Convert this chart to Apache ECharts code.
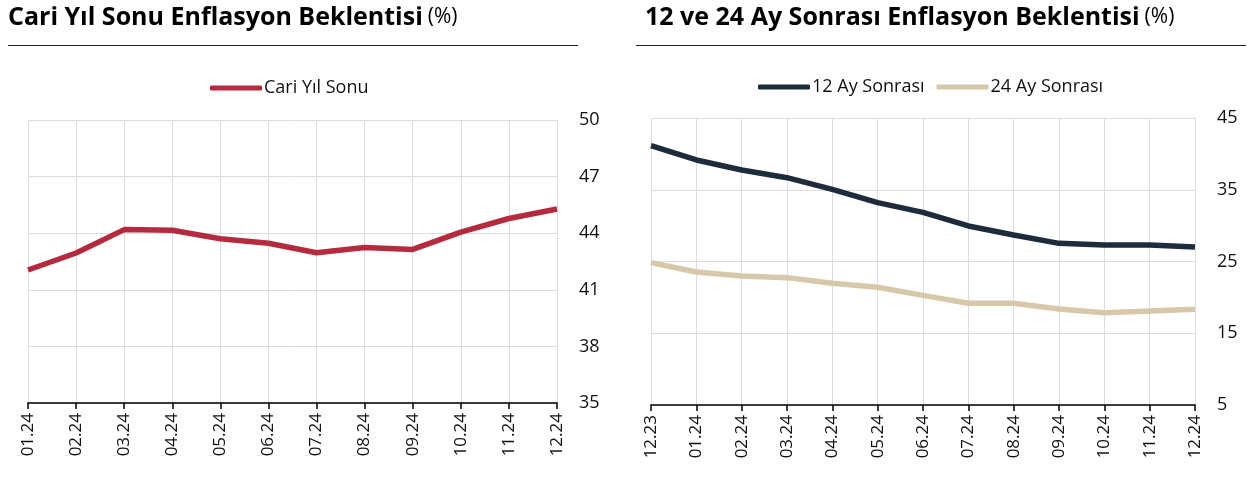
<!DOCTYPE html>
<html>
<head>
<meta charset="utf-8">
<script src="https://cdn.jsdelivr.net/npm/echarts@6/dist/echarts.min.js"></script>
<style>
html,body{margin:0;padding:0;background:#fff;}
#c{width:1252px;height:483px;}
</style>
</head>
<body>
<div id="c"></div>
<script>
// ---- data ----
const leftCategories = ['01.24','02.24','03.24','04.24','05.24','06.24','07.24','08.24','09.24','10.24','11.24','12.24'];
const cariYilSonu = [42.05, 42.95, 44.19, 44.16, 43.71, 43.47, 42.96, 43.24, 43.14, 44.06, 44.78, 45.28];

const rightCategories = ['12.23','01.24','02.24','03.24','04.24','05.24','06.24','07.24','08.24','09.24','10.24','11.24','12.24'];
const ay12Sonrasi = [41.14, 39.15, 37.75, 36.68, 35.06, 33.2, 31.85, 29.95, 28.7, 27.53, 27.3, 27.3, 27.02];
const ay24Sonrasi = [24.84, 23.54, 22.98, 22.75, 21.96, 21.4, 20.28, 19.17, 19.17, 18.38, 17.87, 18.1, 18.33];

const leftTitle = 'Cari Yıl Sonu Enflasyon Beklentisi';
const rightTitle = '12 ve 24 Ay Sonrası Enflasyon Beklentisi';

const FONT = '"Open Sans", "Noto Sans", sans-serif';
const RED = '#b42b3f', NAVY = '#1e2b3d', BEIGE = '#d7c8aa';
const GRID_C = '#dcdcdc';

function xAxisCfg(idx, cats){
  return {
    type:'category', gridIndex: idx, data: cats, boundaryGap:false,
    axisLine:{show:true, lineStyle:{color:'#000', width:1.5}},
    axisTick:{show:true, length:6, lineStyle:{color:'#000', width:1.5}},
    axisLabel:{rotate:90, margin:10, color:'#111', fontFamily:FONT, fontSize:17},
    splitLine:{show:true, lineStyle:{color:GRID_C, width:1}}
  };
}
function yAxisCfg(idx, min, max, interval){
  return {
    type:'value', gridIndex: idx, position:'right', min, max, interval,
    axisLine:{show:false}, axisTick:{show:false},
    axisLabel:{margin:22, color:'#111', fontFamily:FONT, fontSize:18},
    splitLine:{show:true, lineStyle:{color:GRID_C, width:1}}
  };
}

const titleRich = {
  b:{fontFamily:FONT, fontWeight:'bold', fontSize:25, color:'#000'},
  n:{fontFamily:FONT, fontWeight:'normal', fontSize:21, color:'#000'}
};

const chart = echarts.init(document.getElementById('c'), null, {renderer:'canvas'});
chart.setOption({
  animation:false,
  backgroundColor:'#fff',
  title:[
    {left:3, top:0, text:'{b|'+leftTitle+'} {n|(%)}', textStyle:{fontWeight:'normal', rich:titleRich}},
    {left:640, top:0, text:'{b|'+rightTitle+'} {n|(%)}', textStyle:{fontWeight:'normal', rich:titleRich}}
  ],
  graphic:[
    {type:'line', shape:{x1:8, y1:45.5, x2:578, y2:45.5}, style:{stroke:'#222', lineWidth:1.2}},
    {type:'line', shape:{x1:636, y1:45.5, x2:1246, y2:45.5}, style:{stroke:'#222', lineWidth:1.2}}
  ],
  legend:[
    {data:['Cari Yıl Sonu'], left:205, top:74, itemWidth:52, itemHeight:5, itemGap:2,
     icon:'roundRect', textStyle:{fontFamily:FONT, fontSize:18, color:'#111', padding:[0,0,0,-3]}},
    {data:['12 Ay Sonrası','24 Ay Sonrası'], left:753, top:73, itemWidth:52, itemHeight:5, itemGap:12,
     icon:'roundRect', textStyle:{fontFamily:FONT, fontSize:18, color:'#111', padding:[0,0,0,-3]}}
  ],
  grid:[
    {left:28, top:120, width:529, height:283, containLabel:false},
    {left:651, top:118, width:544, height:287, containLabel:false}
  ],
  xAxis:[xAxisCfg(0, leftCategories), xAxisCfg(1, rightCategories)],
  yAxis:[yAxisCfg(0, 35, 50, 3), yAxisCfg(1, 5, 45, 10)],
  series:[
    {name:'Cari Yıl Sonu', type:'line', xAxisIndex:0, yAxisIndex:0, data:cariYilSonu,
     symbol:'none', lineStyle:{color:RED, width:5.5}, itemStyle:{color:RED}},
    {name:'12 Ay Sonrası', type:'line', xAxisIndex:1, yAxisIndex:1, data:ay12Sonrasi,
     symbol:'none', lineStyle:{color:NAVY, width:5.5}, itemStyle:{color:NAVY}},
    {name:'24 Ay Sonrası', type:'line', xAxisIndex:1, yAxisIndex:1, data:ay24Sonrasi,
     symbol:'none', lineStyle:{color:BEIGE, width:5.5}, itemStyle:{color:BEIGE}}
  ]
});
</script>
</body>
</html>
